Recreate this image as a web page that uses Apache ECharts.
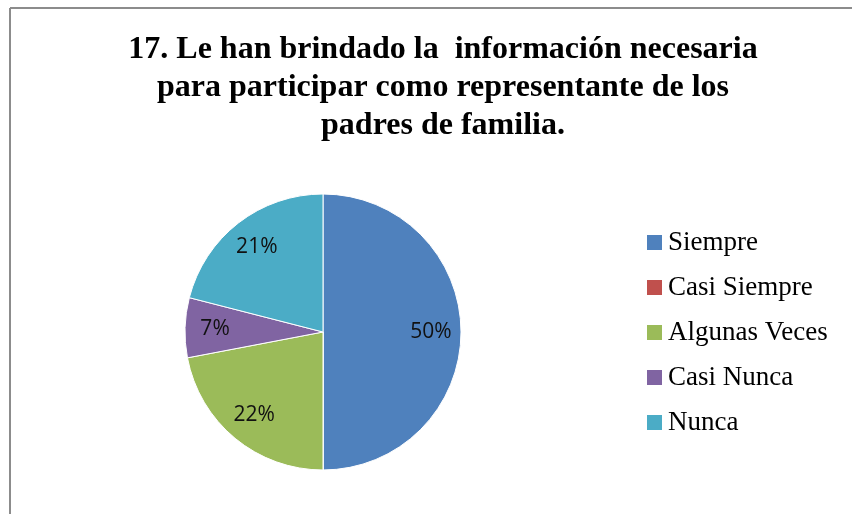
<!DOCTYPE html>
<html>
<head>
<meta charset="utf-8">
<script src="https://cdn.jsdelivr.net/npm/echarts@6/dist/echarts.min.js"></script>
<style>
  html, body { margin: 0; padding: 0; background: #fff; }
  #chart { width: 852px; height: 514px; }
</style>
</head>
<body>
<div id="chart"></div>
<script>
// datos de la pregunta 17
var categorias = ['Siempre', 'Casi Siempre', 'Algunas Veces', 'Casi Nunca', 'Nunca'];
var porcentajes = [50, 0, 22, 7, 21];
var colores = ['#4F81BD', '#C0504D', '#9BBB59', '#8064A2', '#4BACC6'];
var titulo = '17. Le han brindado la  información necesaria\npara participar como representante de los\npadres de familia.';

var pieData = categorias.map(function (c, i) {
    return { name: c, value: porcentajes[i], itemStyle: { color: colores[i] } };
});

var chart = echarts.init(document.getElementById('chart'), null, { renderer: 'canvas' });

chart.setOption({
    animation: false,
    backgroundColor: '#fff',
    title: {
        text: titulo,
        left: 438,
        top: 26,
        textAlign: 'center',
        textStyle: {
            fontFamily: 'Liberation Serif',
            fontWeight: 'bold',
            fontSize: 32,
            lineHeight: 38,
            color: '#000'
        }
    },
    legend: {
        orient: 'vertical',
        left: 640,
        top: 224,
        icon: 'rect',
        itemWidth: 17,
        itemHeight: 17,
        itemGap: 18,
        data: categorias,
        textStyle: { fontFamily: 'Liberation Serif', fontSize: 27, color: '#000', padding: [0, 0, 0, 0] }
    },
    graphic: [
        { type: 'line', shape: { x1: 10, y1: 8, x2: 852, y2: 8 }, style: { stroke: '#8c8c8c', lineWidth: 2 } },
        { type: 'line', shape: { x1: 10, y1: 8, x2: 10, y2: 514 }, style: { stroke: '#8c8c8c', lineWidth: 2 } }
    ],
    series: [
        {
            type: 'pie',
            center: [323, 332],
            radius: [0, 138],
            startAngle: 90,
            clockwise: true,
            silent: true,
            label: { show: false },
            labelLine: { show: false },
            itemStyle: { borderColor: '#fff', borderWidth: 1 },
            data: pieData
        },
        {
            // capa transparente para colocar las etiquetas
            type: 'pie',
            center: [323, 332],
            radius: [72, 138],
            startAngle: 90,
            clockwise: true,
            silent: true,
            legendHoverLink: false,
            itemStyle: { color: 'rgba(0,0,0,0)', borderWidth: 0 },
            label: {
                show: true,
                position: 'inside',
                fontFamily: 'Open Sans',
                fontSize: 21,
                color: '#111',
                formatter: function (p) { return p.value > 0 ? p.value + '%' : ''; }
            },
            labelLine: { show: false },
            data: categorias.map(function (c, i) { return { name: c, value: porcentajes[i] }; })
        }
    ]
});
</script>
</body>
</html>
